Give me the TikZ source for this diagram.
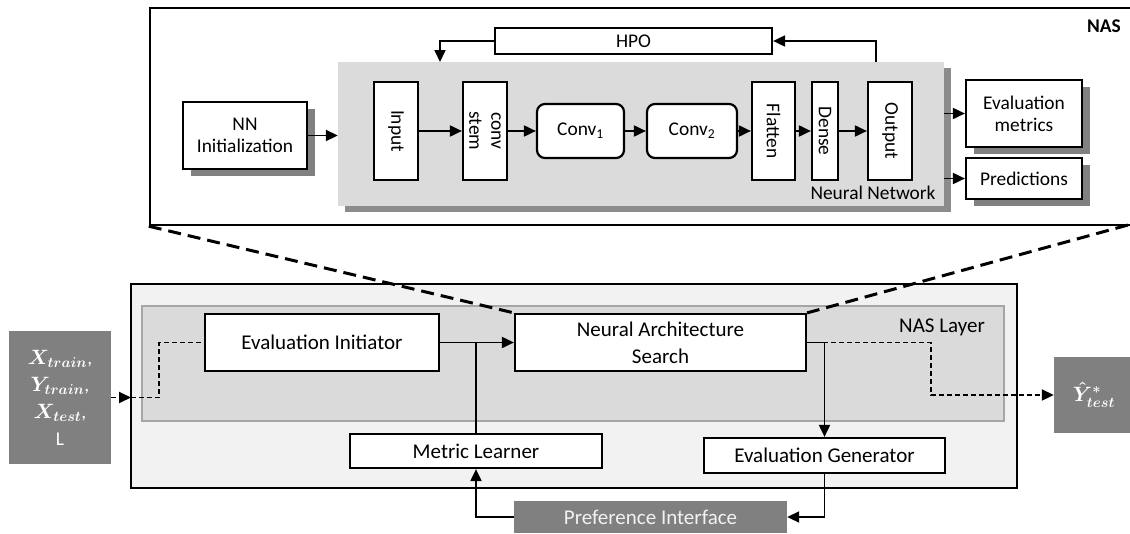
\documentclass[tikz,border=0pt]{standalone}
\usepackage{fontspec}
\setmainfont{Carlito}
\usetikzlibrary{arrows.meta,shadows,calc}

\definecolor{panelgray}{gray}{0.86}
\definecolor{layergray}{gray}{0.855}
\definecolor{layeredge}{gray}{0.65}
\definecolor{outerfill}{gray}{0.95}
\definecolor{blockgray}{gray}{0.5}
\definecolor{shade}{gray}{0.5}

\newcommand\txtA{\fontsize{19.4}{22}\selectfont}
\newcommand\txtB{\fontsize{21}{27}\selectfont}
\newcommand\txtM{\fontsize{19.5}{27}\selectfont\boldmath}

\tikzset{
  box/.style={draw=black, line width=2.2pt, fill=white, inner sep=0pt, align=center, font=\txtA},
  lowbox/.style={box, font=\txtB},
  vtext/.style={rotate=-90, align=center, font=\txtA, inner sep=0pt},
  shadowed/.style={drop shadow={shadow xshift=8pt, shadow yshift=-7pt, fill=shade, opacity=1}},
  datablock/.style={fill=blockgray, inner sep=0pt, align=center, text=white},
  tip/.tip={Triangle[length=12pt,width=11pt]},
  arr/.style={line width=1.9pt, -tip},
  plain/.style={line width=1.9pt},
  dashedarr/.style={line width=1.9pt, dash pattern=on 5pt off 3pt, -tip},
  dashedline/.style={line width=1.9pt, dash pattern=on 5pt off 3pt},
  zoomline/.style={line width=3pt, dash pattern=on 13pt off 7pt},
}

\begin{document}
\begin{tikzpicture}[x=1pt, y=-1pt]
\useasboundingbox (0,0) rectangle (1130,533);

% ---------- NAS detail view ----------
\node[draw=black, line width=2.4pt, inner sep=0pt, minimum width=983pt, minimum height=217pt] (nas) at (641.5,116.5) {};
\node[font=\txtA\bfseries] (naslabel) at (1104,26) {NAS};

\node[fill=panelgray, inner sep=0pt, minimum width=606pt, minimum height=144pt,
      drop shadow={shadow xshift=7pt, shadow yshift=-6pt, fill=shade!90!white, opacity=1}] (nn) at (641,134) {};
\node[font=\txtA, inner sep=0pt] (nnlabel) at (873,193) {Neural Network};

\node[box, minimum width=277pt, minimum height=26pt] (hpo) at (633.5,41) {HPO};
\node[box, shadowed, minimum width=124pt, minimum height=67pt] (init) at (245,135.5) {NN\\Initialization};

\node[box, minimum width=44pt, minimum height=98pt] (inp) at (396,131) {};
\node[vtext] (inplabel) at (inp) {Input};
\node[box, minimum width=44pt, minimum height=98pt] (stem) at (485,131) {};
\node[vtext] (stemlabel) at (stem) {conv\\stem};
\node[box, rounded corners=8pt, minimum width=87pt, minimum height=54pt] (c1) at (580.5,131) {Conv\textsubscript{1}};
\node[box, rounded corners=8pt, minimum width=90pt, minimum height=54pt] (c2) at (692,131) {Conv\textsubscript{2}};
\node[box, minimum width=43pt, minimum height=98pt] (flat) at (773.5,131) {};
\node[vtext] (flatlabel) at (flat) {Flatten};
\node[box, minimum width=26pt, minimum height=98pt] (dense) at (825,131) {};
\node[vtext] (denselabel) at (dense) {Dense};
\node[box, minimum width=44pt, minimum height=98pt] (outp) at (890,131) {};
\node[vtext] (outplabel) at (outp) {Output};

\node[box, shadowed, minimum width=116pt, minimum height=67pt] (evm) at (1024,113.5) {Evaluation\\metrics};
\node[box, shadowed, minimum width=116pt, minimum height=41pt] (pred) at (1024,178.5) {Predictions};

\coordinate (hpoin) at (440,62);
\coordinate (hpoout) at (876,62);
\draw[arr] (init.east) -- (init.east -| nn.west);
\draw[arr] (hpo.west) -| (hpoin);
\draw[arr] (hpoout) |- (hpo.east);
\draw[arr] (inp.east) -- (stem.west);
\draw[arr] (stem.east) -- (c1.west);
\draw[arr] (c1.east) -- (c2.west);
\draw[arr] (c2.east) -- (flat.west);
\draw[arr] (flat.east) -- (dense.west);
\draw[arr] (dense.east) -- (outp.west);
\draw[arr] (nn.east |- evm.west) -- (evm.west);
\draw[arr] (nn.east |- pred.west) -- (pred.west);

% ---------- system overview ----------
\node[draw=black, line width=2.2pt, fill=outerfill, inner sep=0pt, minimum width=886pt, minimum height=204pt] (sys) at (574,386) {};
\node[draw=layeredge, line width=1.6pt, fill=layergray, inner sep=0pt, minimum width=862pt, minimum height=115pt] (layer) at (573,363.5) {};
\node[font=\txtB, inner sep=0pt] (layerlabel) at (942,327) {NAS Layer};

\node[lowbox, minimum width=234pt, minimum height=57pt] (einit) at (322,342.5) {Evaluation Initiator};
\node[lowbox, minimum width=291pt, minimum height=57pt] (search) at (660.5,342.5) {Neural Architecture\\Search};
\node[lowbox, minimum width=252pt, minimum height=34pt] (metric) at (476,451) {Metric Learner};
\node[lowbox, minimum width=241pt, minimum height=35pt] (egen) at (824.5,455.5) {Evaluation Generator};

\node[datablock, font=\txtM, minimum width=102pt, minimum height=133pt] (data) at (60,397.5)
  {$X_{train}$,\\$Y_{train}$,\\$X_{test}$,\\L};
\node[datablock, font=\txtM, minimum width=80pt, minimum height=76pt] (ytest) at (1094,395)
  {$\hat{Y}^{*}_{test}$};
\node[datablock, font=\txtB, text=white!95!black, minimum width=273pt, minimum height=32pt] (pref) at (650.5,517) {Preference Interface};

\coordinate (in1) at (131,397.5);
\coordinate (in2) at (159,397.5);
\coordinate (out1) at (931,342.5);
\draw[dashedarr] (data.east) -- (in1);
\draw[dashedline] (in1) -- (in2) |- (einit.west);
\draw[arr] (einit.east) -- (search.west);
\draw[plain] (metric.north) -- (metric.north |- einit.east);
\draw[arr] (pref.west) -| (metric.south);
\draw[dashedarr] (search.east) -- (out1) |- (ytest.west);
\draw[arr] (search.east) -| (egen.north);
\draw[arr] (egen.south) |- (pref.east);

% zoom-in guide lines
\coordinate (zr) at (1128,225);
\draw[zoomline] (nas.south west) -- (search.north west);
\draw[zoomline] (zr) -- (search.north east);
\end{tikzpicture}
\end{document}
